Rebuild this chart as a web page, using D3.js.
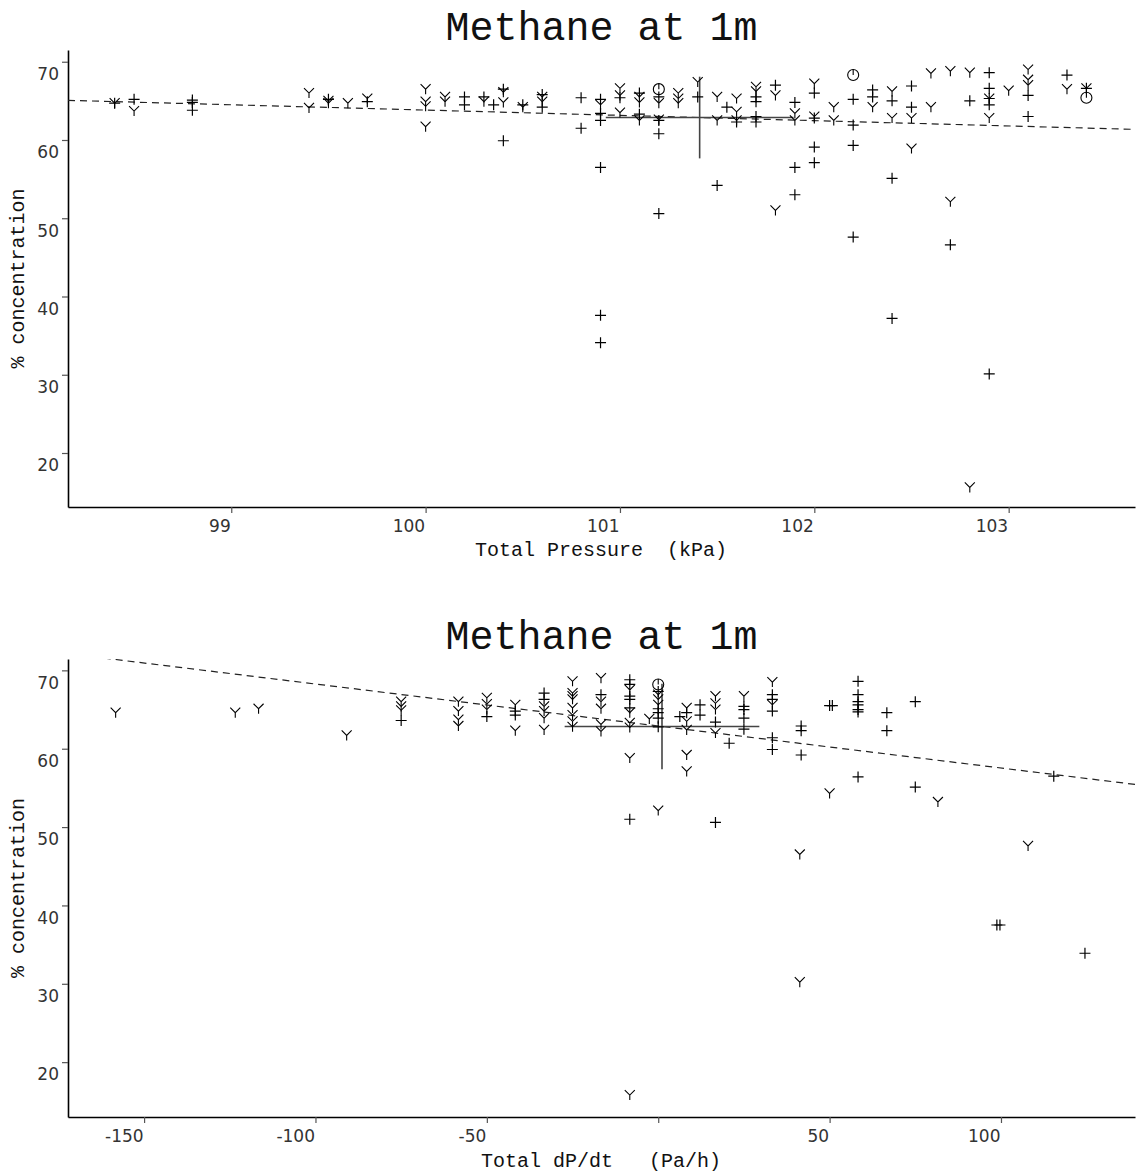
<!DOCTYPE html>
<html>
<head>
<meta charset="utf-8">
<script src="https://cdn.jsdelivr.net/npm/d3@7"></script>
<style>
  body { margin: 0; background: #fff; }
  svg { display: block; }
</style>
</head>
<body>
<svg id="vis" width="1139" height="1174"></svg>
<script>
// ---- top panel: concentration vs total pressure (kPa) ----
const topPlus = [
  [98.4, 64.7], [98.5, 65.2], [98.8, 65.1], [98.8, 64.8], [98.8, 63.8],
  [99.5, 65.2], [99.7, 64.9],
  [100.2, 65.5], [100.2, 64.5], [100.3, 65.5], [100.35, 64.5],
  [100.4, 66.5], [100.4, 59.9], [100.5, 64.5],
  [100.6, 65.8], [100.6, 64.2], [100.8, 65.4], [100.8, 61.5],
  [100.9, 65.2], [100.9, 63.4], [100.9, 62.5], [100.9, 56.5], [100.9, 37.6], [100.9, 34.1],
  [101.0, 65.4], [101.1, 66.0], [101.1, 63.3],
  [101.2, 65.5], [101.2, 62.5], [101.2, 60.8], [101.2, 50.6],
  [101.4, 65.5], [101.5, 54.2], [101.55, 64.2], [101.6, 62.3],
  [101.7, 65.5], [101.7, 64.9], [101.7, 63.0], [101.7, 62.3],
  [101.8, 67.0], [101.9, 64.8], [101.9, 56.5], [101.9, 53.0],
  [102.0, 66.0], [102.0, 62.8], [102.0, 59.1], [102.0, 57.1],
  [102.2, 65.2], [102.2, 61.9], [102.2, 59.3], [102.2, 47.6],
  [102.3, 66.4], [102.3, 65.5], [102.4, 65.0], [102.4, 55.1], [102.4, 37.2],
  [102.5, 66.9], [102.5, 64.2], [102.7, 46.6], [102.8, 65.0],
  [102.9, 68.6], [102.9, 66.6], [102.9, 65.3], [102.9, 64.5], [102.9, 30.1],
  [103.1, 65.7], [103.1, 63.0], [103.3, 68.3], [103.4, 66.6]
];
const topY = [
  [98.4, 64.7], [98.5, 63.7], [99.4, 66.0], [99.4, 64.1], [99.5, 65.0], [99.5, 64.7],
  [99.6, 64.7], [99.7, 65.3],
  [100.0, 66.5], [100.0, 64.9], [100.0, 64.3], [100.0, 61.7],
  [100.1, 65.5], [100.1, 64.9], [100.3, 64.9], [100.4, 66.1], [100.4, 64.8],
  [100.5, 64.2], [100.6, 65.5], [100.6, 64.9], [100.9, 64.5],
  [101.0, 66.6], [101.0, 65.7], [101.0, 63.5],
  [101.1, 65.5], [101.1, 64.8], [101.1, 62.5], [101.2, 64.7], [101.2, 62.6],
  [101.3, 66.0], [101.3, 65.3], [101.3, 64.7], [101.4, 67.4],
  [101.5, 65.5], [101.5, 62.5], [101.6, 65.3], [101.6, 63.6], [101.6, 62.5],
  [101.7, 66.8], [101.7, 66.2], [101.8, 65.7], [101.8, 51.0],
  [101.9, 63.4], [101.9, 62.5], [102.0, 67.2], [102.0, 63.0],
  [102.1, 64.2], [102.1, 62.5], [102.3, 64.2], [102.4, 66.2], [102.4, 62.8],
  [102.5, 62.8], [102.5, 58.9], [102.6, 68.5], [102.6, 64.2],
  [102.7, 68.8], [102.7, 52.1], [102.8, 68.6], [102.8, 15.6],
  [102.9, 65.3], [102.9, 62.8], [103.0, 66.3],
  [103.1, 69.0], [103.1, 67.7], [103.1, 67.0], [103.3, 66.5], [103.4, 66.6]
];
const topCircle = [[101.2, 66.5], [102.2, 68.3], [103.4, 65.4]];
const topTicksX = [99, 100, 101, 102, 103];
const topMean = [101.41, 62.87];
const topSpread = [0.483, 5.22];
const topSlope = -0.676;

// ---- bottom panel: concentration vs dP/dt (Pa/h) ----
const botPlus = [
  [-75, 63.6], [-50, 64.1], [-41.7, 64.8], [-41.7, 64.3], [-33.3, 67.1], [-33.3, 66.3],
  [-16.7, 66.9], [-8.3, 68.8], [-8.3, 68.2], [-8.3, 66.7], [-8.3, 66.3], [-8.3, 65.2], [-8.3, 51.0],
  [0, 67.3], [0, 65.1], [0, 64.6], [0, 63.9], [0, 62.8],
  [6.3, 64.1], [8.3, 64.6], [12.2, 65.6], [12.2, 64.3],
  [16.7, 63.4], [16.7, 50.6], [20.7, 60.7],
  [25, 65.4], [25, 65.0], [25, 63.9], [25, 62.5],
  [33.3, 66.9], [33.3, 66.3], [33.3, 64.8], [33.3, 61.4], [33.3, 59.9],
  [41.7, 62.9], [41.7, 62.3], [41.7, 59.2], [50, 65.5], [50.8, 65.5],
  [58.3, 68.6], [58.3, 66.9], [58.3, 66.0], [58.3, 65.6], [58.3, 65.0], [58.3, 64.7], [58.3, 56.4],
  [66.7, 64.6], [66.7, 62.3], [75, 66.0], [75, 55.1],
  [98.8, 37.5], [99.7, 37.5], [115.4, 56.5], [124.5, 33.9]
];
const botY = [
  [-158.3, 64.6], [-123.4, 64.6], [-116.6, 65.1], [-90.9, 61.7],
  [-75, 66.0], [-75, 65.4], [-75, 64.9],
  [-58.3, 66.0], [-58.3, 64.8], [-58.3, 63.7], [-58.3, 62.9],
  [-50, 66.5], [-50, 65.7], [-50, 65.0], [-41.7, 65.6], [-41.7, 62.3],
  [-33.3, 65.4], [-33.3, 64.8], [-33.3, 63.9], [-33.3, 62.4],
  [-25, 68.6], [-25, 67.1], [-25, 66.7], [-25, 66.3], [-25, 65.2], [-25, 64.3], [-25, 63.5], [-25, 62.8],
  [-16.7, 69.0], [-16.7, 66.0], [-16.7, 65.1], [-16.7, 63.1], [-16.7, 62.2],
  [-8.3, 67.5], [-8.3, 64.6], [-8.3, 63.3], [-8.3, 62.7], [-8.3, 58.8], [-8.3, 15.8],
  [-2.6, 63.8], [0, 66.9], [0, 66.3], [0, 65.6], [0, 52.1],
  [8.3, 65.2], [8.3, 63.5], [8.3, 62.4], [8.3, 59.2], [8.3, 57.1],
  [16.7, 66.7], [16.7, 65.8], [16.7, 65.0], [16.7, 62.0], [25, 66.7],
  [33.3, 68.5], [33.3, 65.6], [41.3, 46.5], [41.3, 30.2], [50, 54.3],
  [81.6, 53.2], [107.9, 47.6]
];
const botCircle = [[0, 68.2]];
const botTicksX = [-150, -100, -50, 0, 50, 100];
const botMean = [1.1, 62.84];
const botSpread = [28.4, 5.45];
const botSlope = -0.0536;

const ticksY = [20, 30, 40, 50, 60, 70];

const svg = d3.select("#vis");
const monoFont = "'Courier New', 'Liberation Mono', monospace";

function plusPath(s) {
  return `M${-s},0H${s}M0,${-s}V${s}`;
}
function yPath(s) {
  return `M${-s},${-s}L0,0L${s},${-s}M0,0V${s}`;
}

function panel(o) {
  const g = svg.append("g");
  const x = d3.scaleLinear().domain(o.xDomain).range([68, 1135]);
  const y = d3.scaleLinear().domain(o.yDomain).range([o.bottom, o.top]);

  const clipId = "clip" + o.top;
  g.append("clipPath").attr("id", clipId)
    .append("rect")
    .attr("x", 68).attr("y", o.top)
    .attr("width", 1135 - 68).attr("height", o.bottom - o.top);

  // title
  g.append("text")
    .attr("x", (68 + 1135) / 2).attr("y", o.titleY)
    .attr("text-anchor", "middle")
    .style("font-family", monoFont).style("font-size", "40px")
    .attr("fill", "#111")
    .text("Methane at 1m");

  // axes
  const xAxis = d3.axisBottom(x).tickValues(o.ticksX).tickSize(6).tickSizeOuter(0)
    .tickFormat(d => d === 0 ? "" : d);
  const gx = g.append("g").attr("transform", `translate(0,${o.bottom})`).call(xAxis);
  gx.selectAll(".tick text")
    .attr("text-anchor", "end").attr("x", -1).attr("y", 10).attr("dy", "0.9em");

  const yAxis = d3.axisLeft(y).tickValues(ticksY).tickSize(6).tickSizeOuter(0);
  const gy = g.append("g").attr("transform", "translate(68,0)").call(yAxis);
  gy.selectAll(".tick text").attr("x", -9).attr("dy", "1.05em");

  [gx, gy].forEach(a => {
    a.select(".domain").attr("stroke", "#000").attr("stroke-width", 1.6);
    a.selectAll(".tick line").attr("stroke", "#555").attr("stroke-width", 1.2);
    a.selectAll(".tick text")
      .style("font-family", "'DejaVu Sans', sans-serif").style("font-size", "17px")
      .attr("fill", "#333");
  });

  // axis titles
  g.append("text")
    .attr("x", 601).attr("y", o.xTitleY)
    .attr("text-anchor", "middle")
    .style("font-family", monoFont).style("font-size", "20px")
    .style("white-space", "pre")
    .attr("fill", "#111")
    .text(o.xTitle);
  g.append("text")
    .attr("transform", `translate(24,${(o.top + o.bottom) / 2}) rotate(-90)`)
    .attr("text-anchor", "middle")
    .style("font-family", monoFont).style("font-size", "20px")
    .attr("fill", "#111")
    .text("% concentration");

  const plot = g.append("g").attr("clip-path", `url(#${clipId})`);

  // regression line through the means
  const reg = x.domain().map(v => [v, o.mean[1] + o.slope * (v - o.mean[0])]);
  plot.append("path")
    .attr("d", d3.line().x(d => x(d[0])).y(d => y(d[1]))(reg))
    .attr("fill", "none").attr("stroke", "#222").attr("stroke-width", 1.2)
    .attr("stroke-dasharray", "7,5");

  // mean +/- spread cross
  plot.append("line")
    .attr("x1", x(o.mean[0] - o.spread[0])).attr("x2", x(o.mean[0] + o.spread[0]))
    .attr("y1", y(o.mean[1])).attr("y2", y(o.mean[1]))
    .attr("stroke", "#444").attr("stroke-width", 1.6);
  plot.append("line")
    .attr("x1", x(o.mean[0])).attr("x2", x(o.mean[0]))
    .attr("y1", y(o.mean[1] - o.spread[1])).attr("y2", y(o.mean[1] + o.spread[1]))
    .attr("stroke", "#444").attr("stroke-width", 1.6);

  plot.selectAll("path.plus").data(o.plus).enter().append("path")
    .attr("class", "plus")
    .attr("transform", d => `translate(${x(d[0])},${y(d[1])})`)
    .attr("d", plusPath(5.5))
    .attr("fill", "none").attr("stroke", "#000").attr("stroke-width", 1.2);

  plot.selectAll("path.ysym").data(o.ys).enter().append("path")
    .attr("class", "ysym")
    .attr("transform", d => `translate(${x(d[0])},${y(d[1])})`)
    .attr("d", yPath(5))
    .attr("fill", "none").attr("stroke", "#000").attr("stroke-width", 1.1);

  const circ = plot.selectAll("g.circ").data(o.circles).enter().append("g")
    .attr("class", "circ")
    .attr("transform", d => `translate(${x(d[0])},${y(d[1])})`);
  circ.append("circle").attr("r", 5.5)
    .attr("fill", "none").attr("stroke", "#000").attr("stroke-width", 1.1);
  circ.append("path").attr("d", "M0,-5.5V0")
    .attr("stroke", "#000").attr("stroke-width", 1.1);
}

panel({
  top: 50, bottom: 507, titleY: 40, xTitleY: 556,
  xDomain: [98.16, 103.65], yDomain: [13.1, 71.5],
  ticksX: topTicksX, xTitle: "Total Pressure  (kPa)",
  plus: topPlus, ys: topY, circles: topCircle,
  mean: topMean, spread: topSpread, slope: topSlope
});

panel({
  top: 659, bottom: 1117, titleY: 649, xTitleY: 1167,
  xDomain: [-172.2, 139.1], yDomain: [13.0, 71.45],
  ticksX: botTicksX, xTitle: "Total dP/dt   (Pa/h)",
  plus: botPlus, ys: botY, circles: botCircle,
  mean: botMean, spread: botSpread, slope: botSlope
});
</script>
</body>
</html>
